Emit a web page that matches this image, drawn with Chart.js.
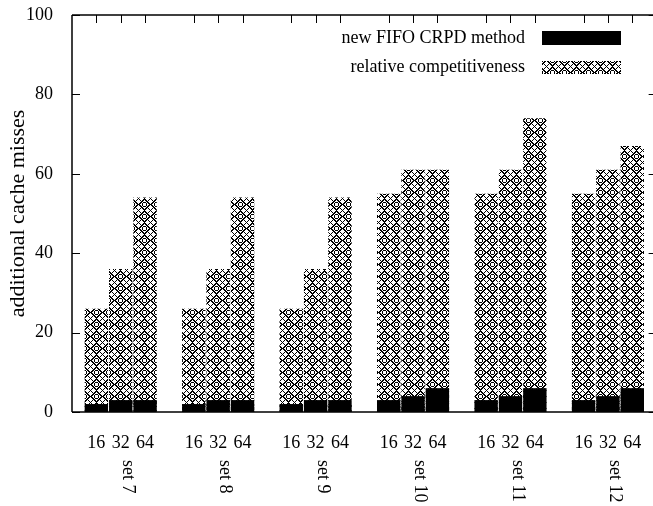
<!DOCTYPE html>
<html>
<head>
<meta charset="utf-8">
<script src="https://cdn.jsdelivr.net/npm/chart.js@4.4.1/dist/chart.umd.min.js"></script>
<style>
  html, body { margin: 0; padding: 0; background: #fff; }
  canvas { display: block; }
</style>
</head>
<body>
<canvas id="c" width="653" height="506"></canvas>
<script>
// ---- data ----
const setLabels = ['set 7', 'set 8', 'set 9', 'set 10', 'set 11', 'set 12'];
const cacheSizes = ['16', '32', '64'];
const fifoCRPD = [2, 3, 3, 2, 3, 3, 2, 3, 3, 3, 4, 6, 3, 4, 6, 3, 4, 6];
const relativeCompetitiveness = [26, 36, 54, 26, 36, 54, 26, 36, 54, 55, 61, 61, 55, 61, 74, 55, 61, 67];
const yMin = 0, yMax = 100, yStep = 20;
const seriesLabels = ['new FIFO CRPD method', 'relative competitiveness'];

// slot positions: 3 bars per set, one empty slot between sets
const positions = [];
setLabels.forEach((s, g) => cacheSizes.forEach((c, j) => positions.push(g * 4 + j)));
const toPoints = vals => vals.map((v, i) => ({ x: positions[i], y: v }));

const FAMILY = "'Liberation Serif', 'Times New Roman', serif";
const FONT = { family: FAMILY, size: 18 };
const canvas = document.getElementById('c');
const ctx = canvas.getContext('2d');

function makePattern() {
  const n = 12;
  const t = document.createElement('canvas');
  t.width = n; t.height = n;
  const g = t.getContext('2d');
  g.fillStyle = '#fff'; g.fillRect(0, 0, n, n);
  g.fillStyle = '#000';
  for (let y = 0; y < n; y++) {
    for (let x = 0; x < n; x++) {
      const d = Math.abs(x - 6) + Math.abs(y - 6);
      const dx = x - 6, dy = y - 6;
      const wx = Math.min(x, n - x), wy = Math.min(y, n - y);
      const r = Math.sqrt(wx * wx + wy * wy);
      let ink = (d === 6 || d === 7);
      if (Math.abs(dx) === Math.abs(dy) && Math.abs(dx) <= 2) ink = true;
      if (r > 1.5 && r < 2.6) ink = true;
      if (ink) g.fillRect(x, y, 1, 1);
    }
  }
  return ctx.createPattern(t, 'repeat');
}
const hatch = makePattern();

const framePlugin = {
  id: 'frame',
  afterDraw(chart) {
    const { ctx, chartArea: a, scales } = chart;
    const xs = scales.x, ys = scales.y;
    ctx.save();
    ctx.strokeStyle = '#000';
    ctx.lineWidth = 1.5;
    ctx.beginPath();
    ctx.moveTo(a.left, a.top); ctx.lineTo(a.right + 2, a.top);
    ctx.moveTo(a.left, a.top); ctx.lineTo(a.left, a.bottom);
    ctx.moveTo(a.left, a.bottom); ctx.lineTo(a.right + 2, a.bottom);
    ctx.stroke();
    ctx.lineWidth = 1;
    ctx.beginPath();
    const xr = xs.getPixelForValue(23);
    for (let v = yMin; v <= yMax; v += yStep) {
      const y = Math.round(ys.getPixelForValue(v)) + 0.5;
      ctx.moveTo(a.left, y); ctx.lineTo(a.left + 8, y);
      ctx.moveTo(xr, y); ctx.lineTo(xr - 8, y);
    }
    positions.forEach(p => {
      const x = Math.round(xs.getPixelForValue(p)) + 0.5;
      ctx.moveTo(x, a.top); ctx.lineTo(x, a.top + 8);
    });
    ctx.stroke();

    // group labels (rotated, reading downward)
    ctx.fillStyle = '#000';
    ctx.font = FONT.size + 'px ' + FAMILY;
    ctx.textAlign = 'left';
    ctx.textBaseline = 'middle';
    setLabels.forEach((s, g) => {
      const x = xs.getPixelForValue(g * 4 + 1) + 7;
      ctx.save();
      ctx.translate(x, 460);
      ctx.rotate(Math.PI / 2);
      ctx.fillText(s, 0, 0);
      ctx.restore();
    });

    // legend (text right aligned, sample to the right)
    const ds = chart.data.datasets;
    const rows = [{ ty: 38, by: 31, bh: 14 }, { ty: 67, by: 61, bh: 13 }];
    ctx.textAlign = 'right';
    ds.forEach((d, i) => {
      const r = rows[i];
      ctx.fillStyle = '#000';
      ctx.fillText(d.label, 525, r.ty);
      ctx.fillStyle = d.backgroundColor;
      ctx.fillRect(542, r.by, 79, r.bh);
    });
    ctx.restore();
  }
};

new Chart(canvas, {
  type: 'bar',
  data: {
    datasets: [
      { label: seriesLabels[0], data: toPoints(fifoCRPD), backgroundColor: '#000', order: 0,
        grouped: false, barPercentage: 0.96, categoryPercentage: 1, borderWidth: 0 },
      { label: seriesLabels[1], data: toPoints(relativeCompetitiveness), backgroundColor: hatch, order: 1,
        grouped: false, barPercentage: 0.96, categoryPercentage: 1, borderWidth: 0 }
    ]
  },
  options: {
    responsive: false,
    animation: false,
    devicePixelRatio: 1,
    layout: { padding: { top: 15, right: 0, left: 0, bottom: 0 } },
    plugins: { legend: { display: false }, tooltip: { enabled: false } },
    scales: {
      x: {
        type: 'linear', min: -1, max: 22.85, offset: false,
        afterBuildTicks(s) { s.ticks = positions.map(v => ({ value: v })); },
        afterFit(s) { s.height = 94; s.paddingLeft = 0; s.paddingRight = 0; },
        ticks: { callback: (v, i) => cacheSizes[i % 3], font: FONT, color: '#000', padding: 20,
                 autoSkip: false, maxRotation: 0, minRotation: 0 },
        grid: { display: false, drawTicks: false },
        border: { display: false }
      },
      y: {
        min: yMin, max: yMax,
        afterFit(s) { s.width = 72; s.paddingTop = 0; s.paddingBottom = 0; },
        ticks: { stepSize: yStep, font: FONT, color: '#000', padding: 19 },
        grid: { display: false, drawTicks: false },
        border: { display: false },
        title: { display: true, text: 'additional cache misses', font: { family: FAMILY, size: 22 },
                 color: '#000', padding: { top: 5, bottom: 0 } }
      }
    }
  },
  plugins: [framePlugin]
});
</script>
</body>
</html>
